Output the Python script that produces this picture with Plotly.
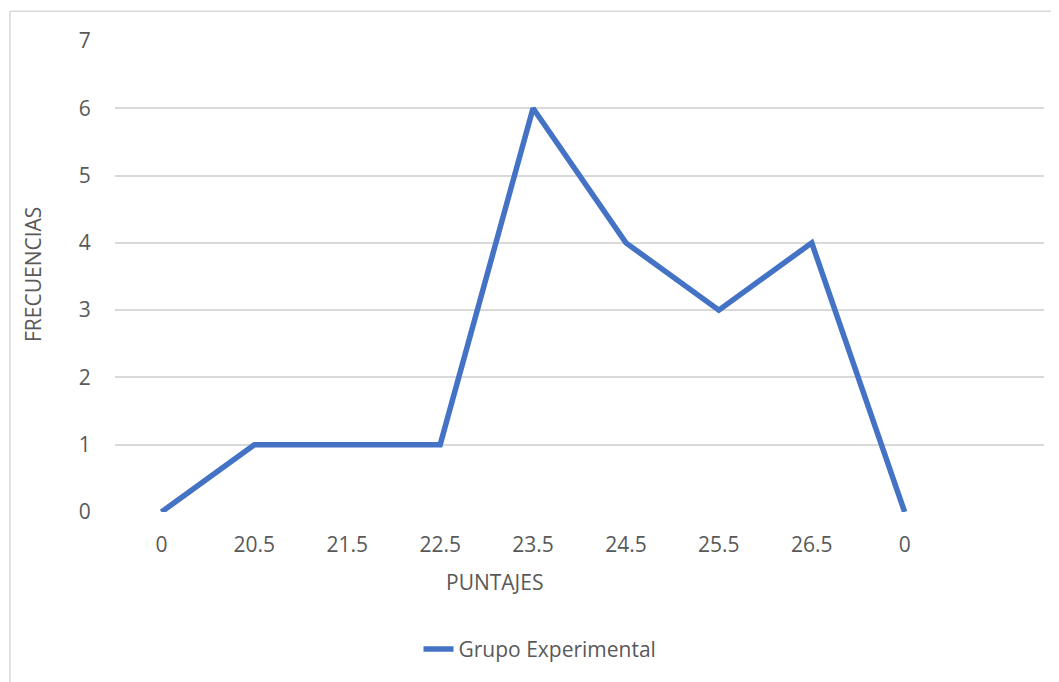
import plotly.graph_objects as go

categories = ["0", "20.5", "21.5", "22.5", "23.5", "24.5", "25.5", "26.5", "0", ""]
frecuencias = [0, 1, 1, 1, 6, 4, 3, 4, 0]
series_name = "Grupo Experimental"

# page has an 8px body margin, so the figure is offset by 8px
OFF = 8
W, H = 1059 - OFF, 682 - OFF
L, R, T, B = 115 - OFF, 15, 41 - OFF, 168
pw, ph = W - L - R, H - T - B

def px_x(px):
    return (px - OFF - L) / pw

def px_y(py):
    return (H - B - (py - OFF)) / ph

FAM = "Open Sans, Liberation Sans, sans-serif"
font = dict(family=FAM, size=21, color="#595959")

fig = go.Figure()
fig.add_trace(go.Scatter(
    x=list(range(len(frecuencias))),
    y=frecuencias,
    mode="lines",
    name=series_name,
    line=dict(color="#4472C4", width=5.5),
))

fig.update_layout(
    width=W, height=H,
    margin=dict(l=L, r=R, t=T, b=B),
    paper_bgcolor="white",
    plot_bgcolor="white",
    font=font,
    showlegend=True,
    legend=dict(
        orientation="h",
        x=px_x(540), y=px_y(652),
        xanchor="center", yanchor="middle",
        font=dict(family=FAM, size=21, color="#595959"),
    ),
    xaxis=dict(
        range=[-0.5, len(categories) - 0.5],
        tickmode="array",
        tickvals=list(range(len(categories))),
        ticktext=categories,
        showgrid=False,
        zeroline=False,
        showline=False,
        ticks="outside",
        ticklen=14,
        tickcolor="rgba(0,0,0,0)",
        tickfont=font,
    ),
    yaxis=dict(
        range=[0, 7],
        dtick=1,
        showgrid=True,
        gridcolor="#D9D9D9",
        gridwidth=1.5,
        zeroline=False,
        showline=False,
        ticks="outside",
        ticklen=19,
        tickcolor="rgba(0,0,0,0)",
        tickfont=font,
    ),
    annotations=[
        dict(text="PUNTAJES", x=px_x(494), y=px_y(584), xref="paper", yref="paper",
             showarrow=False, xanchor="center", yanchor="middle", font=font),
        dict(text="FRECUENCIAS", x=px_x(33), y=px_y(276), xref="paper", yref="paper",
             showarrow=False, xanchor="center", yanchor="middle", textangle=-90, font=font),
    ],
    shapes=[
        dict(type="line", xref="paper", yref="paper",
             x0=px_x(10), x1=px_x(10), y0=px_y(700), y1=px_y(11),
             line=dict(color="#D9D9D9", width=1.5)),
        dict(type="line", xref="paper", yref="paper",
             x0=px_x(10), x1=px_x(1070), y0=px_y(11), y1=px_y(11),
             line=dict(color="#D9D9D9", width=1.5)),
    ],
)

fig.write_html("out.html")
